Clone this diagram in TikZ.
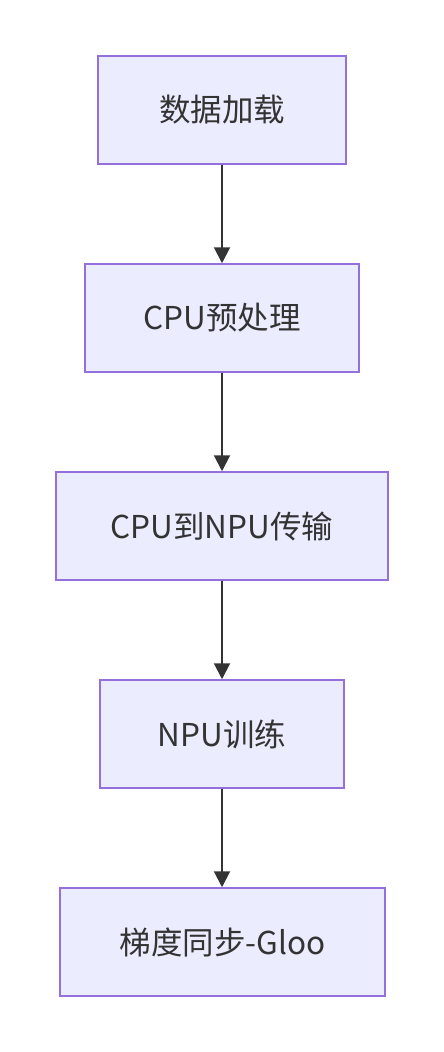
\documentclass[tikz,border=0pt]{standalone}
\usepackage{fontspec}
\setmainfont{Noto Sans CJK SC}
\usetikzlibrary{arrows.meta}
\definecolor{boxfill}{HTML}{ECECFF}
\definecolor{boxdraw}{HTML}{9370DB}
\definecolor{arr}{HTML}{333333}
\begin{document}
\begin{tikzpicture}[x=1pt,y=-1pt,
  box/.style={draw=boxdraw,fill=boxfill,line width=1.5pt,inner sep=0pt,
    text=arr,font=\fontsize{31.5}{38}\selectfont},
  flow/.style={draw=arr,line width=2pt,-{Triangle[length=16pt,width=16pt]}}]
\useasboundingbox (0,0) rectangle (444,1052);
\node[box,minimum width=248pt,minimum height=108pt] (a) at (222,110) {数据加载};
\node[box,minimum width=274pt,minimum height=108pt] (b) at (222,318) {CPU预处理};
\node[box,minimum width=332pt,minimum height=108pt] (c) at (222,526) {CPU到NPU传输};
\node[box,minimum width=244pt,minimum height=108pt] (d) at (222,734) {NPU训练};
\node[box,minimum width=325pt,minimum height=108pt] (e) at (222.5,942) {梯度同步-Gloo};
\draw[flow] (a) -- (b);
\draw[flow] (b) -- (c);
\draw[flow] (c) -- (d);
\draw[flow] (d) -- (d|-e.north);
\end{tikzpicture}
\end{document}
